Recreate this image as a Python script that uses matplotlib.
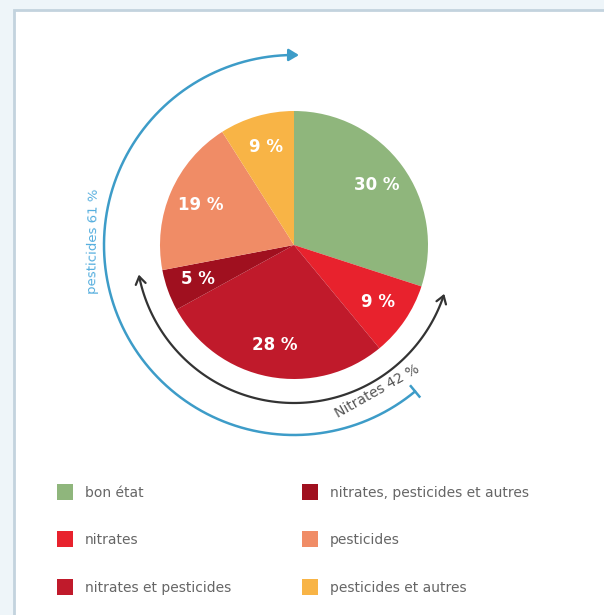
import numpy as np
import matplotlib
matplotlib.use('Agg')
import matplotlib.pyplot as plt
from matplotlib.patches import FancyArrowPatch, Rectangle
from matplotlib.path import Path
from matplotlib.lines import Line2D

labels = ['bon état', 'nitrates', 'nitrates et pesticides',
          'nitrates, pesticides et autres', 'pesticides', 'pesticides et autres']
values = [30, 9, 28, 5, 19, 9]
colors = ['#8fb67c', '#e8222d', '#c01a2b', '#a0101f', '#f08c66', '#f8b446']

nitrates_share = sum(values[1:4])     # 42
pesticides_share = sum(values[2:])    # 61

W, H = 604, 615
fig = plt.figure(figsize=(W / 100, H / 100), dpi=100, facecolor='#eef5f9')
ax = fig.add_axes([0, 0, 1, 1])

# white card with a light blue border (left and top visible)
ax.add_patch(Rectangle((14, -10), W + 10, H - 10 + 10, facecolor='white',
                       edgecolor='#c3d3de', lw=2, zorder=0))

cx, cy, r = 294, 370, 134
ax.pie(values, colors=colors, startangle=90, counterclock=False,
       center=(cx, cy), radius=r, autopct=lambda p: f'{p:.0f} %',
       pctdistance=0.76, frame=True, wedgeprops=dict(linewidth=0),
       textprops=dict(color='white', fontsize=12, fontweight='bold'))

ax.set_xlim(0, W)
ax.set_ylim(0, H)
ax.set_aspect('equal')
ax.axis('off')

# slice boundaries in degrees (clockwise from top)
cum = np.concatenate([[0], np.cumsum(values)])
ang = 90 - 3.6 * cum


def arc_path(a0, a1, rad):
    t = np.radians(np.linspace(a0, a1, 120))
    return Path(np.column_stack([cx + rad * np.cos(t), cy + rad * np.sin(t)]))


# nitrates arc (black, both ends)
ax.add_patch(FancyArrowPatch(path=arc_path(ang[1], ang[4], 158),
                             arrowstyle='<->,head_length=0.45,head_width=0.3',
                             mutation_scale=12, color='#333333', lw=1.6))

# pesticides arc (blue)
rb = 190
blue = '#3d9cc8'
ax.add_patch(FancyArrowPatch(path=arc_path(ang[2], ang[6] - 1.5, rb),
                             arrowstyle='-|>,head_length=0.5,head_width=0.3',
                             mutation_scale=12, color=blue, lw=1.8))
ta = np.radians(ang[2])
ax.plot([cx + (rb - 8) * np.cos(ta), cx + (rb + 8) * np.cos(ta)],
        [cy + (rb - 8) * np.sin(ta), cy + (rb + 8) * np.sin(ta)],
        color=blue, lw=1.8, solid_capstyle='butt')

# arc labels
a = np.radians(179)
ax.text(cx + 201 * np.cos(a), cy + 201 * np.sin(a), f'pesticides {pesticides_share} %',
        rotation=89, ha='center', va='center', fontsize=9.5, color='#55aede',
        rotation_mode='anchor')
a = np.radians(-60.5)
ax.text(cx + 168 * np.cos(a), cy + 168 * np.sin(a), f'Nitrates {nitrates_share} %',
        rotation=29.5, ha='center', va='center', fontsize=10, color='#555555',
        rotation_mode='anchor')

# legend
handles = [Line2D([], [], marker='s', linestyle='', markersize=11.5, color=c,
                  markeredgewidth=0) for c in colors]
ax.legend(handles, labels, ncol=2, loc='upper left', frameon=False,
          bbox_to_anchor=(57 / W, 1 - 486 / H), borderpad=0, borderaxespad=0,
          fontsize=10, labelcolor='#666666', handlelength=1.2,
          handletextpad=0.8, columnspacing=5.1, labelspacing=2.4)

fig.savefig('out.png', dpi=100, facecolor=fig.get_facecolor())
